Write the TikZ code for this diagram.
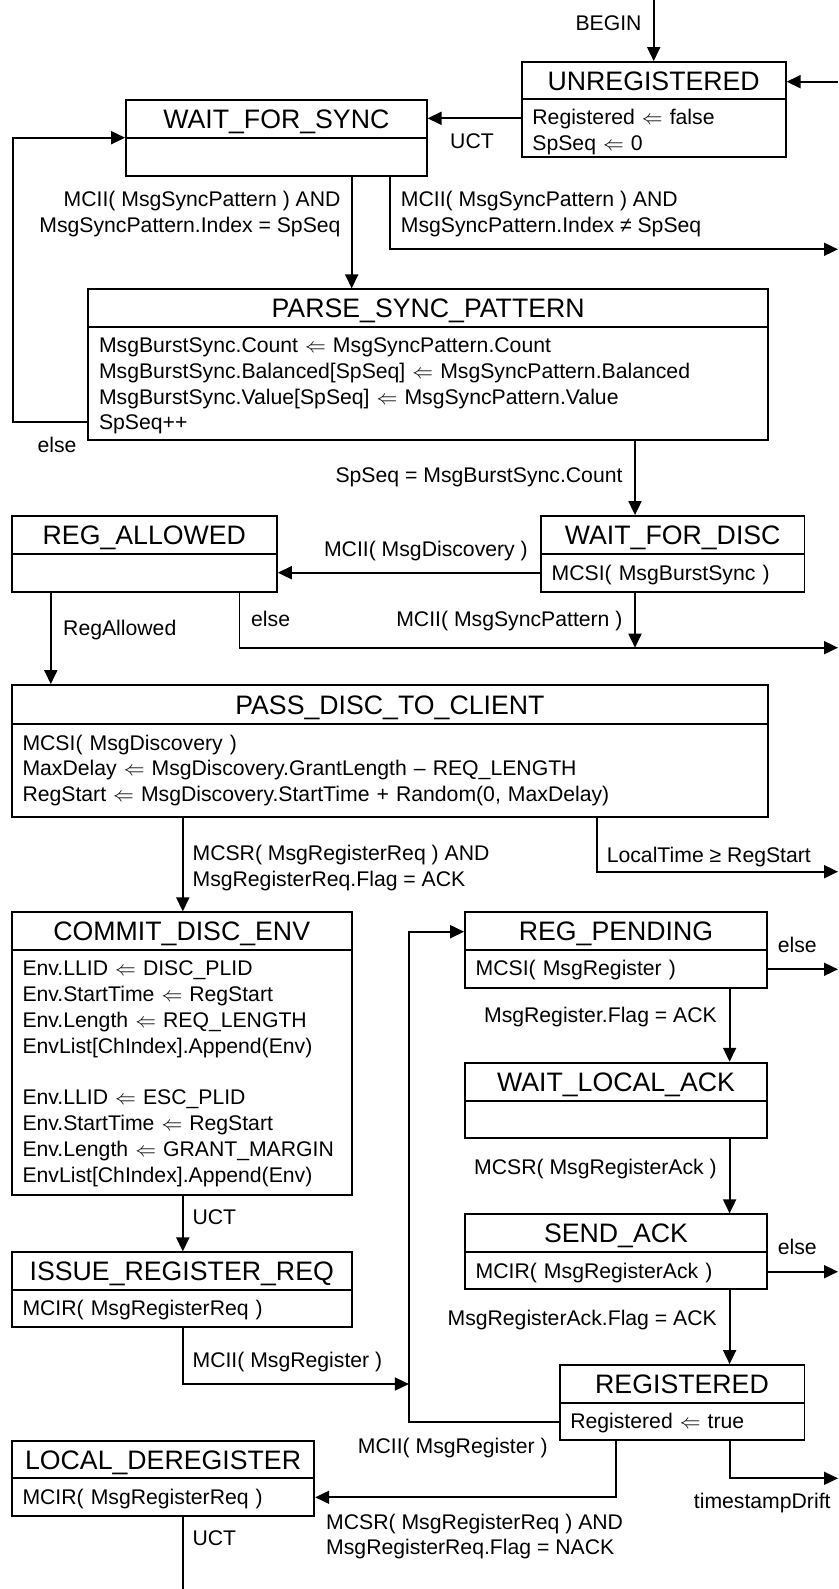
\documentclass[tikz,border=0pt]{standalone}
\usepackage{fontspec}
\setmainfont{Liberation Sans}
\usetikzlibrary{arrows.meta}
\tikzset{
 boxst/.style={draw, line width=1.8pt, inner sep=0pt},
 arr/.style={line width=1.8pt, -{Triangle[length=14pt,width=13pt]}},
 conn/.style={line width=1.8pt},
 lbl/.style={font=\fontsize{21.2}{25.8}\selectfont, inner sep=0pt},
 ttl/.style={font=\fontsize{26.7}{30}\selectfont, inner sep=0pt, anchor=base},
 bodytxt/.style={font=\fontsize{21.2}{25.8}\selectfont, inner sep=0pt, anchor=base west, text width=700pt, align=left},
}
\newcommand\lar{$\Leftarrow$}
\newcommand\mystate[8]{%
 \node[boxst, minimum width={(#4-#2)*1pt}, minimum height={(#6-#3)*1pt}] (#1) at ({(#2+#4)/2},{(#3+#6)/2}) {};
 \draw[conn] (#1.west |- 0,#5) -- (#1.east |- 0,#5);
 \node[ttl] (#1-t) at ({(#2+#4)/2},{(#3+#5)/2+9.6}) {#7};
 \node[bodytxt] (#1-b) at ({#2+10.5},{#5+25.7}) {#8};
}
\begin{document}
\begin{tikzpicture}[x=1pt,y=-1pt]
\useasboundingbox[fill=white] (0,0) rectangle (838,1589);
% states
\mystate{unreg}{521.7}{62}{785.7}{99.3}{156.7}{UNREGISTERED}{Registered \lar{} false\\SpSeq \lar{} 0}
\mystate{wfs}{126}{100}{426.7}{137.7}{175.7}{WAIT\_FOR\_SYNC}{}
\mystate{parse}{88.3}{289.3}{768}{326.7}{440}{PARSE\_SYNC\_PATTERN}{MsgBurstSync.Count \lar{} MsgSyncPattern.Count\\MsgBurstSync.Balanced[SpSeq] \lar{} MsgSyncPattern.Balanced\\MsgBurstSync.Value[SpSeq] \lar{} MsgSyncPattern.Value\\SpSeq++}
\mystate{wfd}{541}{516}{804.4}{554.3}{591.7}{WAIT\_FOR\_DISC}{MCSI( MsgBurstSync )}
\mystate{regall}{11.8}{516}{276.9}{554.3}{591.7}{REG\_ALLOWED}{}
\mystate{pass}{11.8}{685}{768}{724.3}{817.3}{PASS\_DISC\_TO\_CLIENT}{MCSI( MsgDiscovery )\\MaxDelay \lar{} MsgDiscovery.GrantLength -- REQ\_LENGTH\\RegStart \lar{} MsgDiscovery.StartTime + Random(0, MaxDelay)}
\mystate{commit}{11.8}{912.3}{351.7}{950}{1195}{COMMIT\_DISC\_ENV}{Env.LLID \lar{} DISC\_PLID\\Env.StartTime \lar{} RegStart\\Env.Length \lar{} REQ\_LENGTH\\EnvList[ChIndex].Append(Env)\\[25.8pt]Env.LLID \lar{} ESC\_PLID\\Env.StartTime \lar{} RegStart\\Env.Length \lar{} GRANT\_MARGIN\\EnvList[ChIndex].Append(Env)}
\mystate{rp}{465}{912.3}{767}{950}{987.7}{REG\_PENDING}{MCSI( MsgRegister )}
\mystate{wla}{465}{1062.7}{767}{1100.7}{1138.3}{WAIT\_LOCAL\_ACK}{}
\mystate{sa}{465}{1214.3}{767}{1252.3}{1289.3}{SEND\_ACK}{MCIR( MsgRegisterAck )}
\mystate{issue}{11.8}{1252.3}{351.7}{1290}{1327.3}{ISSUE\_REGISTER\_REQ}{MCIR( MsgRegisterReq )}
\mystate{reg}{559.6}{1365}{804.4}{1402.7}{1440}{REGISTERED}{Registered \lar{} true}
\mystate{ld}{11.8}{1440.7}{314.3}{1478.3}{1516}{LOCAL\_DEREGISTER}{MCIR( MsgRegisterReq )}
% free ends
\coordinate (beginpt) at (653.7,0);
\coordinate (inR) at (838,81.7);
\coordinate (out1) at (838,249.3);
\coordinate (out2) at (838,647.7);
\coordinate (j1) at (635,647.7);
\coordinate (out3) at (838,871.7);
\coordinate (out4) at (838,969.3);
\coordinate (out5) at (838,1271.7);
\coordinate (out6) at (838,1478.3);
\coordinate (j2) at (408.9,1384);
\coordinate (endc) at (182.8,1589);
% connectors
\draw[arr] (beginpt) -- (unreg.north);
\draw[arr] (inR) -- (inR -| unreg.east);
\draw[arr] (unreg.west |- 0,118.3) -- (wfs.east |- 0,118.3);
\draw[arr] (wfs.south -| 351.7,0) -- (parse.north -| 351.7,0);
\draw[arr] (wfs.south -| 390,0) |- (out1);
\draw[arr] (parse.west |- 0,421.7) -- (12.7,421.7) -- (12.7,137.7) -- (wfs.west |- 0,137.7);
\draw[arr] (parse.south -| 635,0) -- (wfd.north -| 635,0);
\draw[arr] (wfd.west |- 0,572.7) -- (regall.east |- 0,572.7);
\draw[arr] (regall.south -| 50.8,0) -- (pass.north -| 50.8,0);
\draw[arr] (regall.south -| 239.4,0) |- (out2);
\draw[arr] (wfd.south -| j1) -- (j1);
\draw[arr] (pass.south -| 182.8,0) -- (commit.north -| 182.8,0);
\draw[arr] (pass.south -| 597,0) |- (out3);
\draw[arr] (rp.east |- out4) -- (out4);
\draw[arr] (rp.south -| 729.6,0) -- (wla.north -| 729.6,0);
\draw[arr] (wla.south -| 729.6,0) -- (sa.north -| 729.6,0);
\draw[arr] (sa.east |- out5) -- (out5);
\draw[arr] (sa.south -| 729.6,0) -- (reg.north -| 729.6,0);
\draw[arr] (commit.south -| 182.8,0) -- (issue.north -| 182.8,0);
\draw[arr] (issue.south -| 182.8,0) |- (j2);
\draw[arr] (reg.west |- 0,1421.7) -| (408.9,931.7) -- (rp.west |- 0,931.7);
\draw[arr] (reg.south -| 615.7,0) |- (ld.east |- 0,1497.3);
\draw[arr] (reg.south -| 729.6,0) |- (out6);
\draw[conn] (ld.south -| endc) -- (endc);
% labels
\node[lbl, anchor=base east] (l1) at (641.7,30.3) {BEGIN};
\node[lbl, anchor=base west] (l2) at (450,149) {UCT};
\node[lbl, anchor=base east] (l3a) at (340.7,206.8) {MCII( MsgSyncPattern ) AND};
\node[lbl, anchor=base east] (l3b) at (340.7,232.6) {MsgSyncPattern.Index = SpSeq};
\node[lbl, anchor=base west] (l4a) at (400.7,206.8) {MCII( MsgSyncPattern ) AND};
\node[lbl, anchor=base west] (l4b) at (400.7,232.6) {MsgSyncPattern.Index ≠ SpSeq};
\node[lbl, anchor=base west] (l5) at (37.4,452.3) {else};
\node[lbl, anchor=base east] (l6) at (622.7,482.3) {SpSeq = MsgBurstSync.Count};
\node[lbl, anchor=base east] (l7) at (528,556.6) {MCII( MsgDiscovery )};
\node[lbl, anchor=base west] (l8) at (63,635.6) {RegAllowed};
\node[lbl, anchor=base west] (l9) at (251,626.6) {else};
\node[lbl, anchor=base east] (l10) at (622.7,626.6) {MCII( MsgSyncPattern )};
\node[lbl, anchor=base west] (l11a) at (192.4,860.6) {MCSR( MsgRegisterReq ) AND};
\node[lbl, anchor=base west] (l11b) at (192.4,886.4) {MsgRegisterReq.Flag = ACK};
\node[lbl, anchor=base west] (l12) at (606.6,862.3) {LocalTime ≥ RegStart};
\node[lbl, anchor=base west] (l13) at (777.6,952.3) {else};
\node[lbl, anchor=base east] (l14) at (717,1022.3) {MsgRegister.Flag = ACK};
\node[lbl, anchor=base east] (l15) at (717,1174) {MCSR( MsgRegisterAck )};
\node[lbl, anchor=base west] (l16) at (192.4,1224.6) {UCT};
\node[lbl, anchor=base west] (l17) at (777.6,1254) {else};
\node[lbl, anchor=base east] (l18) at (717,1325.6) {MsgRegisterAck.Flag = ACK};
\node[lbl, anchor=base west] (l19) at (192.4,1367.3) {MCII( MsgRegister )};
\node[lbl, anchor=base east] (l20) at (547.8,1453.3) {MCII( MsgRegister )};
\node[lbl, anchor=base west] (l21) at (693.7,1508) {timestampDrift};
\node[lbl, anchor=base west] (l22a) at (326,1529) {MCSR( MsgRegisterReq ) AND};
\node[lbl, anchor=base west] (l22b) at (326,1554.8) {MsgRegisterReq.Flag = NACK};
\node[lbl, anchor=base west] (l23) at (192.4,1545.6) {UCT};
\end{tikzpicture}
\end{document}
